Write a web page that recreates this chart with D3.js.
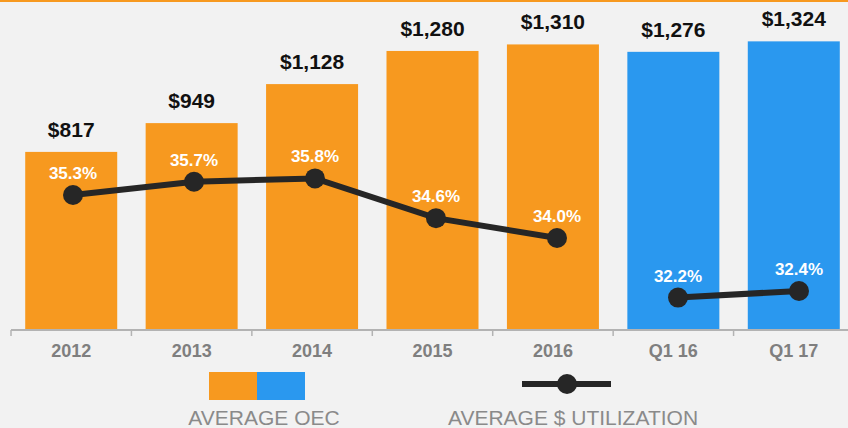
<!DOCTYPE html>
<html>
<head>
<meta charset="utf-8">
<script src="https://cdn.jsdelivr.net/npm/d3@7"></script>
<style>
  body { margin: 0; background: #f2f2f2; }
  svg { display: block; font-family: "Liberation Sans", Arial, sans-serif; }
</style>
</head>
<body>
<div id="chart"></div>
<script>
// chart data
const categories = ["2012", "2013", "2014", "2015", "2016", "Q1 16", "Q1 17"];
const oecValues = [817, 949, 1128, 1280, 1310, 1276, 1324];
const periodType = ["year", "year", "year", "year", "year", "quarter", "quarter"];
const utilValues = [35.3, 35.7, 35.8, 34.6, 34.0, 32.2, 32.4];
const lineSegments = [[0, 1, 2, 3, 4], [5, 6]];

const svgWidth = 848;
const svgHeight = 428;
const orange = "#f7991f";
const blue = "#2a98ef";
const dark = "#262626";

const svg = d3.select("#chart")
  .append("svg")
  .attr("width", svgWidth)
  .attr("height", svgHeight);

svg.append("rect")
  .attr("width", svgWidth)
  .attr("height", svgHeight)
  .attr("fill", "#f2f2f2");

// thin orange rule across the top
svg.append("rect")
  .attr("x", 0).attr("y", 0)
  .attr("width", svgWidth).attr("height", 2)
  .attr("fill", orange);

const baseY = 330;

const x = d3.scaleBand()
  .domain(categories)
  .range([11, 854])
  .paddingInner(0.236)
  .paddingOuter(0.118);

const y = d3.scaleLinear()
  .domain([0, 1500])
  .range([baseY, 3]);

// utilization sits on its own axis and point scale
const xLine = d3.scalePoint()
  .domain(categories)
  .range([73, 799]);

const y2 = d3.scaleLinear()
  .domain([30, 37])
  .range([370.4, 138.7]);

// bars
svg.append("g").selectAll("rect")
  .data(categories)
  .join("rect")
  .attr("x", d => x(d))
  .attr("y", (d, i) => y(oecValues[i]))
  .attr("width", x.bandwidth())
  .attr("height", (d, i) => baseY - y(oecValues[i]))
  .attr("fill", (d, i) => periodType[i] === "year" ? orange : blue);

// value labels above bars
svg.append("g").selectAll("text")
  .data(categories)
  .join("text")
  .attr("x", d => x(d) + x.bandwidth() / 2)
  .attr("y", (d, i) => y(oecValues[i]) - 15)
  .attr("text-anchor", "middle")
  .attr("font-size", 21)
  .attr("font-weight", "bold")
  .attr("fill", "#111")
  .text((d, i) => "$" + d3.format(",")(oecValues[i]));

// x axis
const xAxis = d3.axisBottom(x).tickSize(0).tickPadding(14);
const axisG = svg.append("g")
  .attr("transform", `translate(0, ${baseY})`)
  .call(xAxis);
axisG.select(".domain").attr("stroke", "#b3b3b3").attr("stroke-width", 2)
  .attr("d", `M11,0H${svgWidth}`);
axisG.selectAll(".tick text")
  .attr("font-size", 18)
  .attr("font-weight", "bold")
  .attr("fill", "#7f7f7f")
  .attr("font-family", "Liberation Sans, Arial, sans-serif");

// boundary tick marks between categories
const step = x.step();
const bounds = d3.range(categories.length).map(i => 11 + i * step);
axisG.selectAll(".bound")
  .data(bounds)
  .join("line")
  .attr("class", "bound")
  .attr("x1", d => d).attr("x2", d => d)
  .attr("y1", 0).attr("y2", 6)
  .attr("stroke", "#b3b3b3")
  .attr("stroke-width", 1.5);

// utilization line
const line = d3.line()
  .x(i => xLine(categories[i]))
  .y(i => y2(utilValues[i]));

svg.append("g").selectAll("path")
  .data(lineSegments)
  .join("path")
  .attr("d", line)
  .attr("fill", "none")
  .attr("stroke", dark)
  .attr("stroke-width", 6);

svg.append("g").selectAll("circle")
  .data(categories)
  .join("circle")
  .attr("cx", d => xLine(d))
  .attr("cy", (d, i) => y2(utilValues[i]))
  .attr("r", 10)
  .attr("fill", dark);

svg.append("g").selectAll("text")
  .data(categories)
  .join("text")
  .attr("x", d => xLine(d))
  .attr("y", (d, i) => y2(utilValues[i]) - 16)
  .attr("text-anchor", "middle")
  .attr("font-size", 17)
  .attr("font-weight", "bold")
  .attr("fill", "#fff")
  .text((d, i) => d3.format(".1f")(utilValues[i]) + "%");

// legend
const legend = svg.append("g");
legend.append("rect")
  .attr("x", 209).attr("y", 372).attr("width", 48).attr("height", 28)
  .attr("fill", orange);
legend.append("rect")
  .attr("x", 257).attr("y", 372).attr("width", 48).attr("height", 28)
  .attr("fill", blue);
legend.append("text")
  .attr("x", 264).attr("y", 425)
  .attr("text-anchor", "middle")
  .attr("font-size", 21)
  .attr("fill", "#8a8a8a")
  .text("AVERAGE OEC");

legend.append("line")
  .attr("x1", 522).attr("x2", 611)
  .attr("y1", 384).attr("y2", 384)
  .attr("stroke", dark).attr("stroke-width", 6);
legend.append("circle")
  .attr("cx", 567).attr("cy", 384).attr("r", 10)
  .attr("fill", dark);
legend.append("text")
  .attr("x", 573).attr("y", 425)
  .attr("text-anchor", "middle")
  .attr("font-size", 21)
  .attr("fill", "#8a8a8a")
  .text("AVERAGE $ UTILIZATION");
</script>
</body>
</html>
